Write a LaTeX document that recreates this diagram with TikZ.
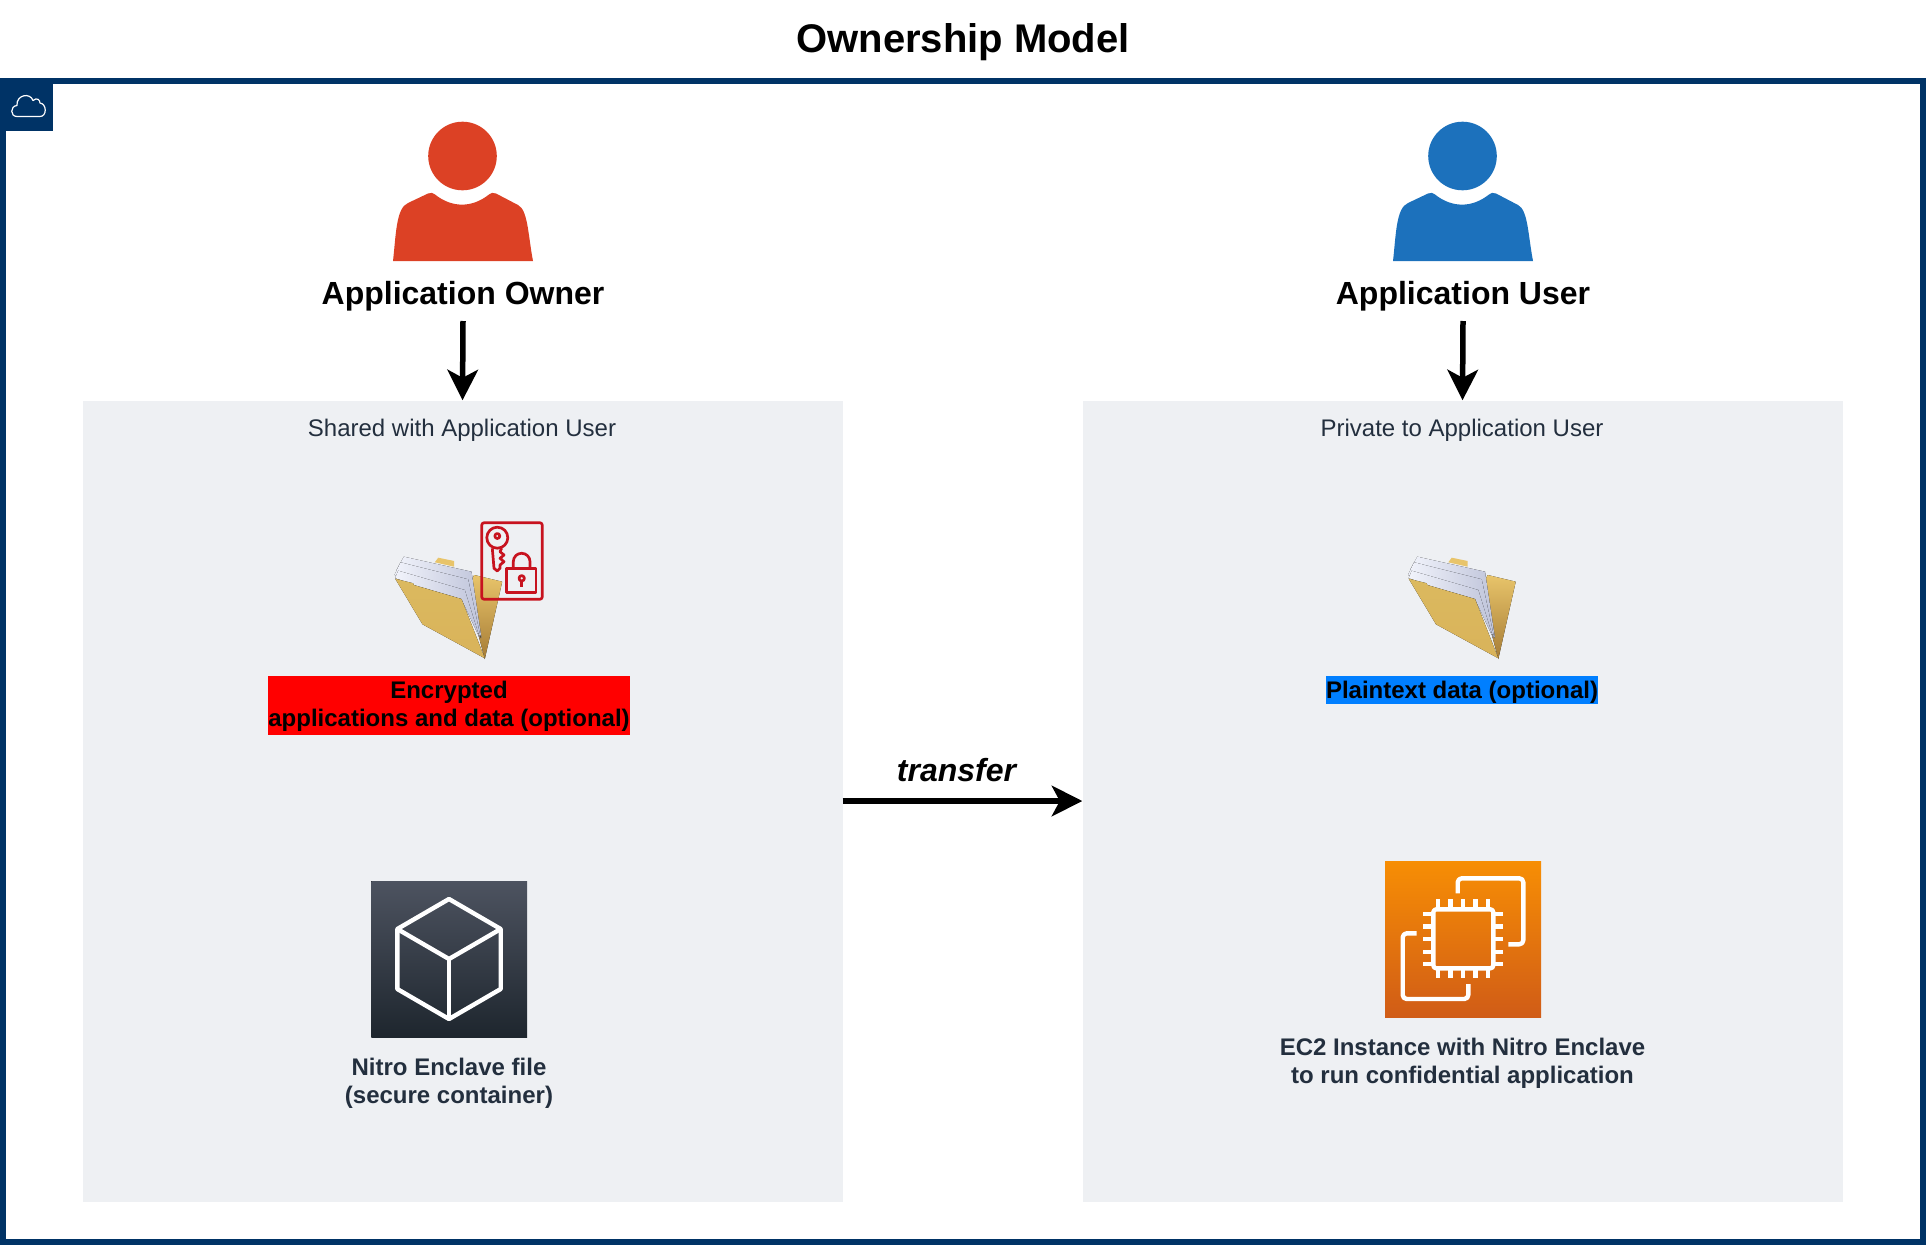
\documentclass[tikz,border=0pt]{standalone}
\usepackage{fontspec}
\setmainfont{Liberation Sans}
\usetikzlibrary{arrows.meta}
\definecolor{framecol}{HTML}{003366}
\definecolor{boxcol}{HTML}{EEF0F3}
\definecolor{inkcol}{HTML}{232F3E}
\definecolor{ownercol}{HTML}{DC4125}
\definecolor{usercol}{HTML}{1C71BC}
\definecolor{keycol}{HTML}{C7131F}
\definecolor{plainblue}{HTML}{007FFF}
\definecolor{cubetop}{HTML}{4D5360}
\definecolor{cubebot}{HTML}{1E262E}
\definecolor{chiptop}{HTML}{F78E04}
\definecolor{chipbot}{HTML}{D05C17}
\definecolor{foldlight}{HTML}{E8C46A}
\definecolor{folddark}{HTML}{A67C36}
\definecolor{foldfront}{HTML}{DBB95F}
\definecolor{foldfrontb}{HTML}{D9B35A}
\definecolor{sheeta}{HTML}{F1F3FB}
\definecolor{sheetb}{HTML}{DDE0EE}
\definecolor{sheetc}{HTML}{BFC4DA}
\tikzset{
  areabox/.style={fill=boxcol, minimum width=760pt, minimum height=801pt, inner sep=0pt},
  areatitle/.style={text=inkcol, font=\fontsize{24}{28}\selectfont},
  rolelabel/.style={font=\fontsize{32}{37}\selectfont\bfseries},
  itemlabel/.style={font=\fontsize{24}{28}\selectfont\bfseries, align=center, inner sep=0pt},
  flow/.style={line width=5.5pt, -{Stealth[length=30.5pt,width=30.5pt,inset=8pt]}},
  glyph/.style={white, line width=4.4pt, line join=round},
  sheet/.style={left color=sheeta, right color=sheetc}
}
\begin{document}
\begin{tikzpicture}[x=1pt,y=-1pt]
  \useasboundingbox (0,0) rectangle (1926,1244);

  \node [font=\fontsize{40}{46}\selectfont\bfseries] (title) at (963,42.5) {Ownership Model};

  % outer frame and its cloud tab
  \draw [framecol, line width=6pt] (3,81) rectangle (1923,1241.5);
  \fill [framecol] (0,78) rectangle (53,131);
  \draw [white, line width=1.2pt, line join=round] (17,116.5) .. controls (10,116.5) and (10,106) .. (17,105.5)
    .. controls (16,95) and (30,92) .. (33,100.5) .. controls (37,97) and (40,100) .. (40,103)
    .. controls (47,104) and (47,116.5) .. (40,116.5) -- cycle;

  % the two areas
  \node [areabox] (shared) at (462.5,801) {};
  \node [areabox] (private) at (1462.5,801) {};
  \node [areatitle] (sharedtitle) at (462,430.5) {Shared with Application User};
  \node [areatitle] (privatetitle) at (1462,430.5) {Private to Application User};

  % people
  \foreach \s/\c in {0/ownercol, 1000/usercol} {
    \begin{scope}[xshift=\s pt]
      \fill [\c] (462.5,156) circle (34.3);
      \fill [\c] (393,261) .. controls (396,235) and (396,208) .. (408,203)
        -- (428,193.5) .. controls (431,192) and (433,193) .. (435,194.5)
        .. controls (452,208) and (472,208) .. (489,194.5)
        .. controls (491,193) and (493,192) .. (496,193.5) -- (518,205)
        .. controls (528,210) and (528,235) .. (533,261) -- cycle;
    \end{scope}
  }
  \node [rolelabel] (owner) at (463,296) {Application Owner};
  \node [rolelabel] (user) at (1463,296) {Application User};
  \coordinate (ownerout) at (463,321);
  \coordinate (userout) at (1463,321);
  \draw [flow] (ownerout) -- (shared.north);
  \draw [flow] (userout) -- (private.north);

  % folders
  \foreach \s in {-1013.5,0} {
    \begin{scope}[xshift=\s pt]
      \fill [foldlight] (1448.3,562.3) -- (1451.7,557.7) -- (1467.7,561) -- (1467.7,566.7) -- cycle;
      \fill [top color=foldlight, middle color=foldlight, bottom color=folddark] (1487.7,575) -- (1515.7,581.7) -- (1498.3,659) -- (1480,590) -- cycle;
      \fill [sheet] (1417.3,556.7) -- (1485,571.7) -- (1495,638) -- (1478,600) -- (1410,570) -- cycle;
      \fill [sheet] (1414,562.3) -- (1481.7,579.3) -- (1494.3,638.3) -- (1476,600) -- (1408,575) -- cycle;
      \fill [sheet] (1411.7,570.7) -- (1478.3,590) -- (1493.3,638.3) -- (1475,599) -- (1427,585) -- (1408.7,578) -- cycle;
      \fill [top color=foldfront, bottom color=foldfrontb] (1408.7,578.7) -- (1426.7,583.3) -- (1427.3,585) -- (1475,599) -- (1498.3,658.3) -- (1436,624.3) -- cycle;
    \end{scope}
  }

  % key and lock document
  \begin{scope}[keycol, line width=2.7pt, line join=round]
    \draw [rounded corners=2.5pt] (481.7,522.7) rectangle (542.3,599.3);
    \draw (497.3,537.7) circle (10.5);
    \draw (497.3,536) circle (2.5);
    \draw (492.3,548.3) -- (494,568.3) -- (497.3,571) -- (500,568.3) -- (500,565) -- (504,561.7) -- (500,558.3) -- (504,555) -- (500,551.7) -- (501.7,548.3);
    \draw (506.7,568.3) rectangle (536,592.7);
    \draw (513.3,568.3) -- (513.3,561.6) arc (180:360:8.35) -- (530,568.3);
    \draw (521.7,578.3) circle (2.7);
    \draw (521.7,581) -- (521.7,587);
  \end{scope}

  % text under the folders
  \node [fill=red, minimum width=362pt, minimum height=59pt, inner sep=0pt] (encryptedbar) at (449,705.5) {};
  \node [itemlabel] (encrypted) at (449,706) {Encrypted\\applications and data (optional)};
  \node [itemlabel, fill=plainblue, text height=23pt, text depth=5.3pt] (plaintext) at (1462,689.9) {Plaintext data (optional)};

  % enclave file
  \fill [top color=cubetop, bottom color=cubebot] (371.3,881) rectangle (527,1037);
  \draw [glyph] (449,899) -- (500.7,929) -- (500.7,989) -- (449,1019) -- (397.3,989) -- (397.3,929) -- cycle;
  \draw [glyph] (397.3,929) -- (449,959) -- (500.7,929);
  \draw [glyph] (449,959) -- (449,1019);
  \node [itemlabel, text=inkcol] (enclavefile) at (449,1083) {Nitro Enclave file\\(secure container)};

  % instance
  \fill [top color=chiptop, bottom color=chipbot] (1385,861) rectangle (1541,1017);
  \draw [glyph, rounded corners=3pt] (1433.3,909.3) rectangle (1493.3,968.3);
  \foreach \p in {1438,1450.3,1463,1475.3,1488} {
    \draw [glyph] (\p,899.3) -- (\p,909.3);
    \draw [glyph] (\p,968.3) -- (\p,978.3);
  }
  \foreach \p in {913.7,926.3,939,951.7,964} {
    \draw [glyph] (1423.3,\p) -- (1433.3,\p);
    \draw [glyph] (1493.3,\p) -- (1503.3,\p);
  }
  \draw [glyph, rounded corners=4pt] (1457.7,893.3) -- (1457.7,878.3) -- (1523.3,878.3) -- (1523.3,944.3) -- (1508.3,944.3);
  \draw [glyph, rounded corners=4pt] (1416.7,933.3) -- (1402.7,933.3) -- (1402.7,999) -- (1468.3,999) -- (1468.3,984);
  \node [itemlabel, text=inkcol] (instance) at (1462.5,1063) {EC2 Instance with Nitro Enclave\\to run confidential application};

  % transfer
  \draw [flow] (shared.east) -- node [above=13pt, xshift=-6pt, font=\fontsize{32}{36}\selectfont\bfseries\itshape] (transfer) {transfer} (private.west);
\end{tikzpicture}
\end{document}
